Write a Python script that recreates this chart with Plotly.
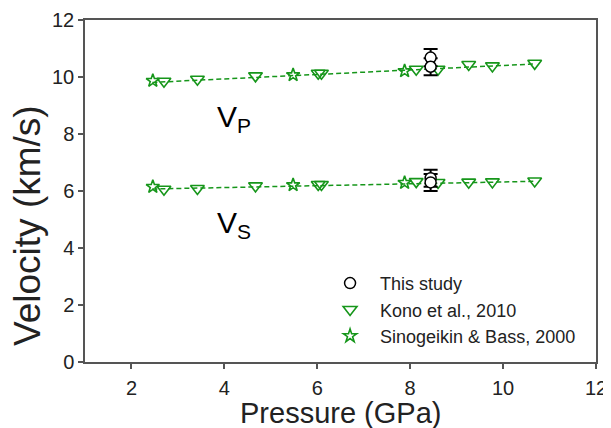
import plotly.graph_objects as go

# This study
this_p = [8.44, 8.44]
this_vp = [10.68, 10.36]
this_vp_err = [0.3, 0.3]
this_vs = [6.45, 6.30]
this_vs_err = [0.3, 0.3]

# Kono et al., 2010
kono_p = [2.70, 3.42, 4.67, 6.02, 6.09, 8.13, 8.60, 9.26, 9.77, 10.68]
kono_vp = [9.85, 9.92, 10.04, 10.13, 10.13, 10.27, 10.27, 10.44, 10.39, 10.48]
kono_vs = [6.06, 6.09, 6.18, 6.23, 6.23, 6.33, 6.30, 6.31, 6.32, 6.35]

# Sinogeikin & Bass, 2000
sb_p = [2.46, 5.48, 7.88]
sb_vp = [9.87, 10.07, 10.21]
sb_vs = [6.15, 6.21, 6.29]

# fit lines (endpoints)
fit_p = [2.45, 10.70]
fit_vp = [9.81, 10.46]
fit_vs = [6.07, 6.34]

GREEN = "#16961a"
fig = go.Figure()

for fv in (fit_vp, fit_vs):
    fig.add_trace(go.Scatter(x=fit_p, y=fv, mode="lines", showlegend=False,
                             line=dict(color=GREEN, width=1.5, dash="5px,3px")))

for i, kv in enumerate((kono_vp, kono_vs)):
    fig.add_trace(go.Scatter(x=kono_p, y=kv, mode="markers", name="Kono et al., 2010",
                             legendgroup="kono", showlegend=(i == 0), legendrank=2,
                             marker=dict(symbol="triangle-down-open", size=12, color=GREEN,
                                         line=dict(width=1.6, color=GREEN))))
for i, sv in enumerate((sb_vp, sb_vs)):
    fig.add_trace(go.Scatter(x=sb_p, y=sv, mode="markers", name="Sinogeikin & Bass, 2000",
                             legendgroup="sb", showlegend=(i == 0), legendrank=3,
                             marker=dict(symbol="star-open", size=10, color=GREEN,
                                         line=dict(width=1.6, color=GREEN))))
for i, (tv, te) in enumerate(((this_vp, this_vp_err), (this_vs, this_vs_err))):
    fig.add_trace(go.Scatter(x=this_p, y=tv, mode="markers", name="This study",
                             legendgroup="this", showlegend=(i == 0), legendrank=1,
                             error_y=dict(type="data", array=te, color="black", thickness=2, width=7),
                             marker=dict(symbol="circle", size=11, color="white",
                                         line=dict(width=1.5, color="black"))))

fig.add_annotation(x=3.80, y=8.56, xref="x", yref="y", text="V<sub>P</sub>", showarrow=False,
                   xanchor="left", yanchor="middle", font=dict(size=30, color="black"))
fig.add_annotation(x=3.80, y=4.84, xref="x", yref="y", text="V<sub>S</sub>", showarrow=False,
                   xanchor="left", yanchor="middle", font=dict(size=30, color="black"))
# axis titles placed as in the reference
fig.add_annotation(x=-0.1115, y=0.398, xref="paper", yref="paper", text="Velocity (km/s)",
                   textangle=-90, showarrow=False, xanchor="center", yanchor="middle",
                   font=dict(size=37, color="#222222"))
fig.add_annotation(x=0.5, y=-0.150, xref="paper", yref="paper", text="Pressure (GPa)",
                   showarrow=False, xanchor="center", yanchor="middle",
                   font=dict(size=29, color="#222222"))

axis_common = dict(showgrid=False, zeroline=False, showline=True, linecolor="#555555",
                   linewidth=1.5, mirror=True, ticks="outside", ticklen=5, tickwidth=1.5,
                   tickcolor="#555555", tickfont=dict(size=20, color="#222222"),
                   automargin=False)
fig.update_xaxes(range=[1, 12], tickvals=[2, 4, 6, 8, 10, 12], ticklabelstandoff=2,
                 **axis_common)
fig.update_yaxes(range=[0, 12], tickvals=[0, 2, 4, 6, 8, 10, 12], **axis_common)

# page body has an 8px margin, so the figure is 8px smaller with margins shifted
fig.update_layout(width=603, height=420, margin=dict(l=77, r=15, t=12, b=66),
                  paper_bgcolor="white", plot_bgcolor="white",
                  font=dict(family="Liberation Sans, Arial, sans-serif"),
                  legend=dict(x=0.46, y=0.284, xanchor="left", yanchor="top", itemwidth=50,
                              font=dict(size=18, color="#222222"), bgcolor="rgba(0,0,0,0)",
                              tracegroupgap=0))
fig.write_html("out.html")
